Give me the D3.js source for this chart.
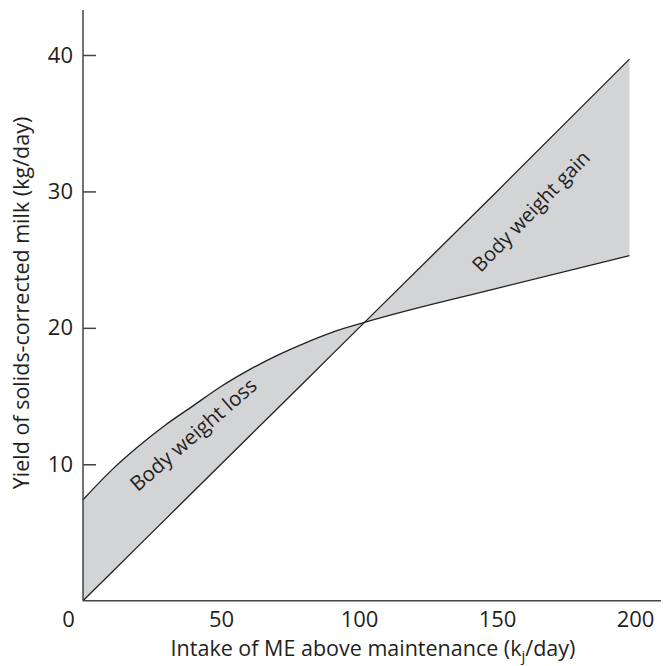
<!DOCTYPE html>
<html>
<head>
<meta charset="utf-8">
<script src="https://cdn.jsdelivr.net/npm/d3@7"></script>
<style>
  html, body { margin: 0; padding: 0; background: #fff; }
  svg text { font-family: "Open Sans", "Noto Sans", sans-serif; fill: #231f20; }
</style>
</head>
<body>
<svg id="chart" width="663" height="666"></svg>
<script>
// Data
const intake       = [0, 10, 20, 30, 40, 50, 60, 70, 80, 90, 102, 150, 198];
const yieldActual  = [7.4, 9.5, 11.3, 12.9, 14.3, 15.7, 16.9, 17.95, 18.85, 19.65, 20.4, 22.9, 25.3];
const yieldPotential = [0, 2, 4, 6, 8, 10, 12, 14, 16, 18, 20.4, 30, 39.7];
const xTicks = [0, 50, 100, 150, 200];
const yTicks = [10, 20, 30, 40];
const xTitle = "Intake of ME above maintenance (k";
const yTitle = "Yield of solids-corrected milk (kg/day)";
const labels = ["Body weight loss", "Body weight gain"];

const pts = intake.map((x, i) => ({x, a: yieldActual[i], p: yieldPotential[i]}));

const svg = d3.select("#chart");
const x = d3.scaleLinear().domain([0, 200]).range([83, 635]);
const y = d3.scaleLinear().domain([0, 40]).range([600.7, 55]);

svg.append("path")
  .datum(pts)
  .attr("fill", "#d3d4d6")
  .attr("d", d3.area().x(d => x(d.x)).y0(d => y(d.a)).y1(d => y(d.p)).curve(d3.curveMonotoneX));

svg.append("path")
  .datum(pts)
  .attr("fill", "none").attr("stroke", "#231f20").attr("stroke-width", 1.3)
  .attr("d", d3.line().x(d => x(d.x)).y(d => y(d.a)).curve(d3.curveMonotoneX));

svg.append("path")
  .datum(pts)
  .attr("fill", "none").attr("stroke", "#231f20").attr("stroke-width", 1.3)
  .attr("d", d3.line().x(d => x(d.x)).y(d => y(d.p)));

const yAxis = svg.append("g").attr("transform", `translate(${x(0)},0)`)
  .call(d3.axisLeft(y).tickValues(yTicks).tickSize(-13).tickPadding(10).tickSizeOuter(0));
yAxis.select(".domain").remove();
yAxis.append("line").attr("x1", 0).attr("x2", 0).attr("y1", y(0)).attr("y2", y(43.3))
  .attr("stroke", "#444").attr("stroke-width", 1.5);
yAxis.selectAll(".tick line").attr("stroke", "#444").attr("stroke-width", 1.5);
yAxis.selectAll(".tick text").attr("font-size", 22).style("font-family", "'Open Sans', sans-serif").attr("fill", "#231f20");

const xAxis = svg.append("g").attr("transform", `translate(0,${y(0)})`)
  .call(d3.axisBottom(x).tickValues(xTicks).tickSize(0).tickPadding(11).tickFormat(d3.format("d")));
xAxis.select(".domain").remove();
xAxis.append("line").attr("x1", x(0)).attr("x2", x(209.4)).attr("y1", 0).attr("y2", 0)
  .attr("stroke", "#444").attr("stroke-width", 1.5);
xAxis.selectAll(".tick text").attr("font-size", 22).style("font-family", "'Open Sans', sans-serif").attr("fill", "#231f20")
  .attr("dx", d => d === 0 ? -15 : 0);

const xt = svg.append("text").attr("x", 373).attr("y", 656).attr("text-anchor", "middle").attr("font-size", 21.5);
xt.append("tspan").text(xTitle);
xt.append("tspan").text("j").attr("font-size", 15).attr("dy", 5);
xt.append("tspan").text("/day)").attr("dy", -5);

svg.append("text").attr("transform", "translate(29,303) rotate(-90)")
  .attr("text-anchor", "middle").attr("font-size", 21.5).text(yTitle);

svg.append("text").attr("transform", "translate(198,440) rotate(-41)")
  .attr("text-anchor", "middle").attr("font-size", 20.5).text(labels[0]);
svg.append("text").attr("transform", "translate(536,216) rotate(-46)")
  .attr("text-anchor", "middle").attr("font-size", 20).text(labels[1]);
</script>
</body>
</html>
